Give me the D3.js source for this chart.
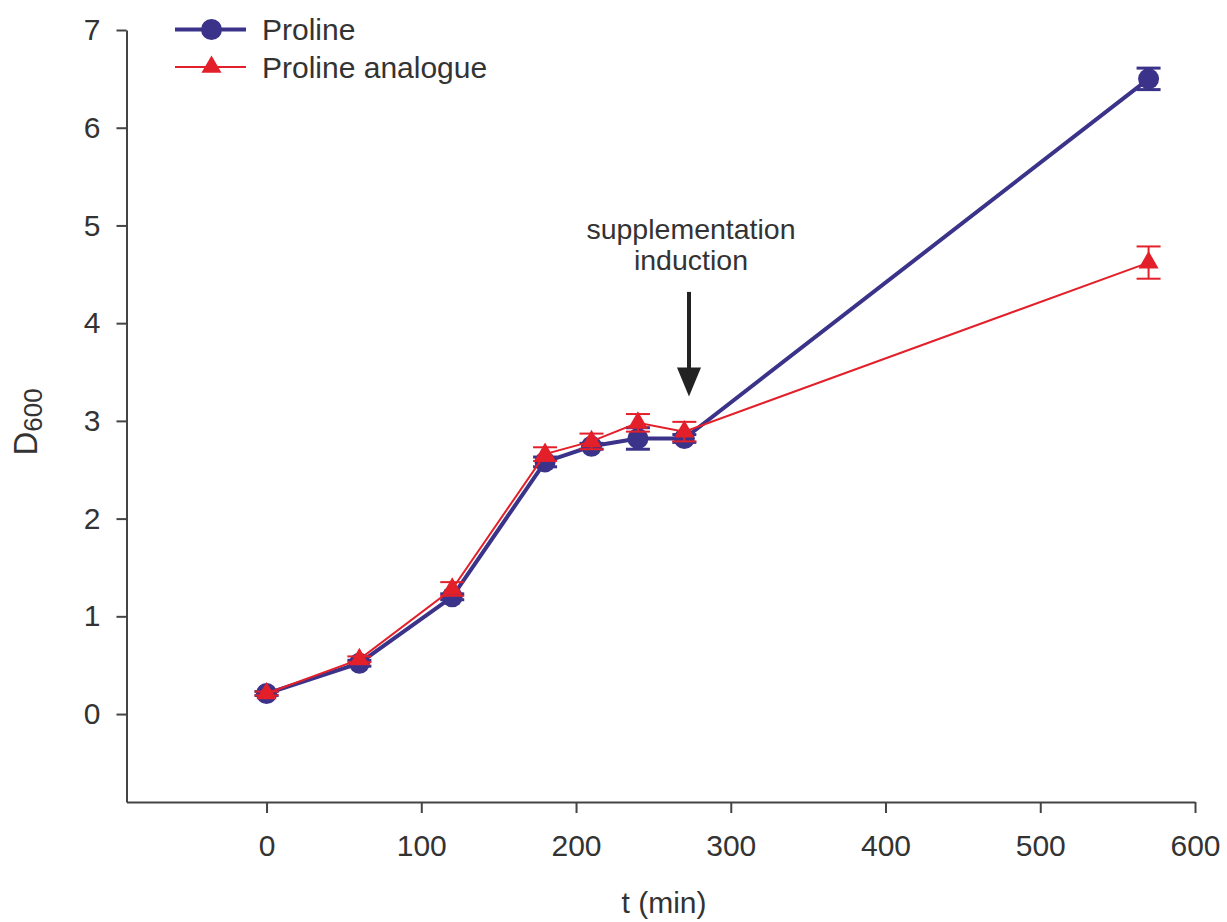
<!DOCTYPE html>
<html>
<head>
<meta charset="utf-8">
<script src="https://cdn.jsdelivr.net/npm/d3@7"></script>
<style>
  body { margin: 0; background: #fff; }
  text { font-family: "Liberation Sans", Arial, sans-serif; fill: #333; }
</style>
</head>
<body>
<div id="chart"></div>
<script>
// data
var times = [0, 60, 120, 180, 210, 240, 270, 570];
var proline = [0.21, 0.52, 1.20, 2.58, 2.74, 2.82, 2.82, 6.50];
var prolineErr = [0.02, 0.03, 0.03, 0.05, 0.03, 0.11, 0.04, 0.11];
var analogue = [0.21, 0.56, 1.28, 2.66, 2.79, 2.98, 2.89, 4.62];
var analogueErr = [0.02, 0.03, 0.07, 0.07, 0.08, 0.09, 0.10, 0.165];
var xTicks = [0, 100, 200, 300, 400, 500, 600];
var yTicks = [0, 1, 2, 3, 4, 5, 6, 7];
var seriesNames = ["Proline", "Proline analogue"];
var arrowAt = { t: 273, from: 4.32, to: 3.25 };

var blue = "#3a3389", red = "#e3202a";

// set the dimensions and margins of the graph
var margin = {top: 30, right: 32, bottom: 120, left: 126.5},
width = 1227 - margin.left - margin.right,
height = 922 - margin.top - margin.bottom;

var svg = d3.select("#chart")
.append("svg")
.attr("width", 1227)
.attr("height", 922)
.append("g")
.attr("transform", "translate(" + margin.left + "," + margin.top + ")");

var x = d3.scaleLinear().domain([-90.5, 600]).range([0, width]);
var y = d3.scaleLinear().domain([-0.9, 7]).range([height, 0]);

// axes
svg.append("g")
.attr("transform", "translate(0," + height + ")")
.call(d3.axisBottom(x).tickValues(xTicks).tickSize(11).tickSizeOuter(0).tickPadding(22));
svg.append("g")
.call(d3.axisLeft(y).tickValues(yTicks).tickSize(10).tickSizeOuter(0).tickPadding(16));

svg.selectAll(".domain, .tick line").attr("stroke", "#444").attr("stroke-width", 2);
svg.selectAll(".tick text").attr("font-size", 30).attr("font-family", null).style("fill", "#333");

// axis titles
svg.append("text")
  .attr("text-anchor", "middle")
  .attr("x", 664 - margin.left)
  .attr("y", 913 - margin.top)
  .attr("font-size", 30)
  .text("t (min)");

var yl = svg.append("text")
  .attr("text-anchor", "middle")
  .attr("transform", "translate(" + (37 - margin.left) + "," + (422 - margin.top) + ") rotate(-90)")
  .attr("font-size", 33);
yl.append("tspan").text("D");
yl.append("tspan").attr("font-size", 26).attr("dy", 5).text("600");

var line = d3.line()
  .x(function(d) { return x(d.t); })
  .y(function(d) { return y(d.v); });

function rows(vals, errs) {
  return times.map(function(t, i) { return {t: t, v: vals[i], e: errs[i]}; });
}
var pro = rows(proline, prolineErr);
var ana = rows(analogue, analogueErr);

function errorBars(data, color, w) {
  var g = svg.append("g").attr("stroke", color).attr("stroke-width", w);
  g.selectAll(".v").data(data).enter().append("line")
    .attr("x1", function(d) { return x(d.t); })
    .attr("x2", function(d) { return x(d.t); })
    .attr("y1", function(d) { return y(d.v - d.e); })
    .attr("y2", function(d) { return y(d.v + d.e); });
  [-1, 1].forEach(function(s) {
    g.selectAll(".c" + s).data(data).enter().append("line")
      .attr("x1", function(d) { return x(d.t) - 12; })
      .attr("x2", function(d) { return x(d.t) + 12; })
      .attr("y1", function(d) { return y(d.v + s * d.e); })
      .attr("y2", function(d) { return y(d.v + s * d.e); });
  });
}

// proline
svg.append("path").datum(pro)
  .attr("fill", "none").attr("stroke", blue).attr("stroke-width", 4)
  .attr("d", line);
errorBars(pro, blue, 3);
svg.selectAll(".dot").data(pro).enter().append("circle")
  .attr("cx", function(d) { return x(d.t); })
  .attr("cy", function(d) { return y(d.v); })
  .attr("r", 10.5)
  .attr("fill", blue);

// proline analogue
svg.append("path").datum(ana)
  .attr("fill", "none").attr("stroke", red).attr("stroke-width", 2)
  .attr("d", line);
errorBars(ana, red, 2);
var tri = d3.symbol().type(d3.symbolTriangle).size(175);
svg.selectAll(".tri").data(ana).enter().append("path")
  .attr("d", tri)
  .attr("transform", function(d) { return "translate(" + x(d.t) + "," + y(d.v) + ")"; })
  .attr("fill", red);

// annotation arrow
var ax = x(arrowAt.t), ay0 = y(arrowAt.from), ay1 = y(arrowAt.to);
svg.append("line")
  .attr("x1", ax).attr("x2", ax)
  .attr("y1", ay0).attr("y2", ay1 - 20)
  .attr("stroke", "#222").attr("stroke-width", 4);
svg.append("path")
  .attr("d", "M" + (ax - 12) + "," + (ay1 - 29) + "L" + (ax + 12) + "," + (ay1 - 29) + "L" + ax + "," + ay1 + "Z")
  .attr("fill", "#222");
svg.append("text")
  .attr("text-anchor", "middle")
  .attr("x", ax + 2).attr("y", ay0 - 53)
  .attr("font-size", 28.5)
  .text("supplementation");
svg.append("text")
  .attr("text-anchor", "middle")
  .attr("x", ax + 2).attr("y", ay0 - 22)
  .attr("font-size", 28.5)
  .text("induction");

// legend
var legend = svg.append("g").attr("transform", "translate(" + (175 - margin.left) + "," + (29.5 - margin.top) + ")");
legend.append("line").attr("x1", 0).attr("x2", 71).attr("y1", 0).attr("y2", 0)
  .attr("stroke", blue).attr("stroke-width", 4);
legend.append("circle").attr("cx", 36.5).attr("cy", 0).attr("r", 10.5).attr("fill", blue);
legend.append("text").attr("x", 87).attr("y", 10.5).attr("font-size", 30).text(seriesNames[0]);
legend.append("line").attr("x1", 0).attr("x2", 71).attr("y1", 37.5).attr("y2", 37.5)
  .attr("stroke", red).attr("stroke-width", 2);
legend.append("path").attr("d", tri).attr("transform", "translate(36.5,37.5)").attr("fill", red);
legend.append("text").attr("x", 87).attr("y", 48).attr("font-size", 30).text(seriesNames[1]);
</script>
</body>
</html>
